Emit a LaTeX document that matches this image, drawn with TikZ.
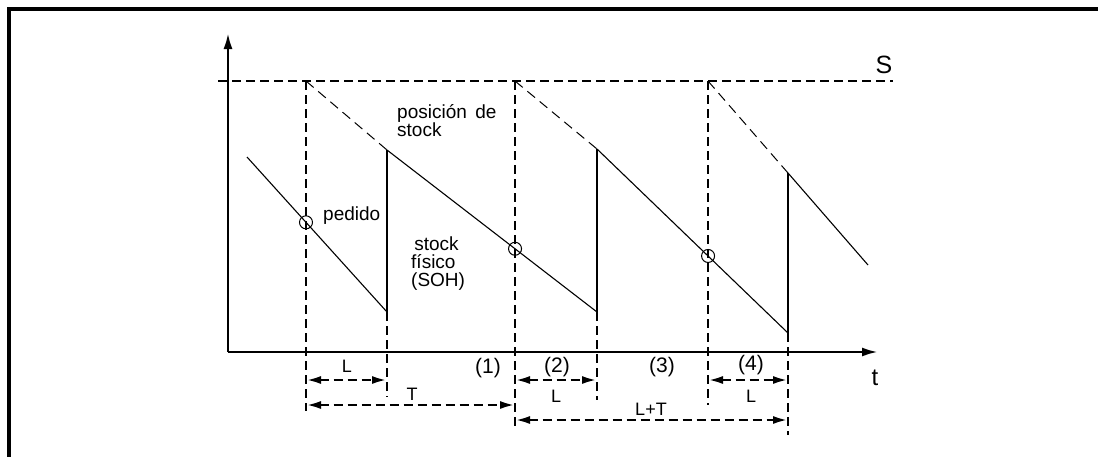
\documentclass[tikz,border=0pt]{standalone}
\usepackage{fontspec}
\setmainfont{Liberation Sans}
\usetikzlibrary{arrows.meta}

\begin{document}
\begin{tikzpicture}[
  x=1pt, y=-1pt,
  axis/.style={line width=2.6pt, -{Latex[length=16pt,width=9pt]}},
  guide/.style={line width=2.6pt, dash pattern=on 9pt off 5pt},
  stockpos/.style={line width=1pt, dash pattern=on 10pt off 6pt},
  soh/.style={line width=1.1pt},
  refill/.style={line width=2.6pt},
  dim/.style={line width=2.6pt, dash pattern=on 9pt off 5pt, {Latex[length=15pt,width=8pt]}-{Latex[length=15pt,width=8pt]}},
  ordpt/.style={draw, circle, minimum size=13pt, inner sep=0pt, line width=1pt},
  lbl/.style={inner sep=0pt, align=left, font=\fontsize{19}{18}\selectfont},
  phase/.style={inner sep=0pt, font=\fontsize{21}{21}\selectfont},
  dimlbl/.style={inner sep=0pt, font=\fontsize{18}{18}\selectfont}
]
\useasboundingbox (0,0) rectangle (1098,456);
% frame
\draw[line width=4pt] (9,460) -- (9,9) -- (1102,9);

% axes
\coordinate (O) at (228,352);
\coordinate (ytip) at (228,33);
\coordinate (xtip) at (878,352);
\draw[axis] (O) -- (ytip);
\draw[axis] (O) -- (xtip);

% level S
\coordinate (Sl) at (218,81);
\coordinate (Sr) at (893,81);
\draw[guide] (Sl) -- (Sr);
\node[lbl, font=\fontsize{25}{25}\selectfont] (sLbl) at (884,65) {S};

% order instants
\foreach \n/\x/\yb in {o1/306/411, o2/515/430, o3/708/405} {
  \coordinate (\n top) at (\x,81);
  \coordinate (\n bot) at (\x,\yb);
  \draw[guide] (\n top) -- (\n bot);
}

% arrivals
\coordinate (a1hi) at (387,150);
\coordinate (a1lo) at (387,312);
\coordinate (a1bot) at (387,397);
\coordinate (a2hi) at (597,149);
\coordinate (a2lo) at (597,312);
\coordinate (a2bot) at (597,400);
\coordinate (a3hi) at (788,173);
\coordinate (a3lo) at (788,333);
\coordinate (a3bot) at (788,435);
\draw[guide] (a1lo) -- (a1bot);
\draw[guide] (a2lo) -- (a2bot);
\draw[guide] (a3lo) -- (a3bot);

% physical stock
\coordinate (s0) at (247,157);
\coordinate (s4) at (868,265);
\draw[soh] (s0) -- (a1lo);
\draw[refill] (a1lo) -- (a1hi);
\draw[soh] (a1hi) -- (a2lo);
\draw[refill] (a2lo) -- (a2hi);
\draw[soh] (a2hi) -- (a3lo);
\draw[refill] (a3lo) -- (a3hi);
\draw[soh] (a3hi) -- (s4);

% stock position
\draw[stockpos] (o1top) -- (a1hi);
\draw[stockpos] (o2top) -- (a2hi);
\draw[stockpos] (o3top) -- (a3hi);

% order points
\node[ordpt] (ped1) at (intersection of s0--a1lo and o1top--o1bot) {};
\node[ordpt] (ped2) at (intersection of a1hi--a2lo and o2top--o2bot) {};
\node[ordpt] (ped3) at (intersection of a2hi--a3lo and o3top--o3bot) {};

% labels
\node[lbl, anchor=west] (posLbl) at (397,121) {posición\, de\\stock};
\node[lbl, anchor=west] (pedLbl) at (323,216) {pedido};
\node[lbl, anchor=west] (sohLbl) at (411,264) {\,stock\\físico\\(SOH)};
\node[lbl, font=\fontsize{24}{24}\selectfont] (tLbl) at (875,378) {t};

% dimensions
\coordinate (d1a) at (306,380);
\coordinate (d1b) at (387,380);
\coordinate (dTa) at (306,405);
\coordinate (dTb) at (515,405);
\coordinate (d2a) at (515,380);
\coordinate (d2b) at (597,380);
\coordinate (dLTa) at (515,420);
\coordinate (dLTb) at (788,420);
\coordinate (d4a) at (708,380);
\coordinate (d4b) at (788,380);
\draw[dim] (d1a) -- (d1b);
\draw[dim] (dTa) -- (dTb);
\draw[dim] (d2a) -- (d2b);
\draw[dim] (dLTa) -- (dLTb);
\draw[dim] (d4a) -- (d4b);
\node[dimlbl] (dimL1) at (347,366) {L};
\node[dimlbl] (dimT) at (412,394) {T};
\node[dimlbl] (dimL2) at (556,396) {L};
\node[dimlbl] (dimLT) at (651,409) {L+T};
\node[dimlbl] (dimL4) at (751,396) {L};

% phases
\node[phase] (n1) at (488,368) {(1)};
\node[phase] (n2) at (557,367) {(2)};
\node[phase] (n3) at (662,367) {(3)};
\node[phase] (n4) at (751,365) {(4)};
\end{tikzpicture}
\end{document}
